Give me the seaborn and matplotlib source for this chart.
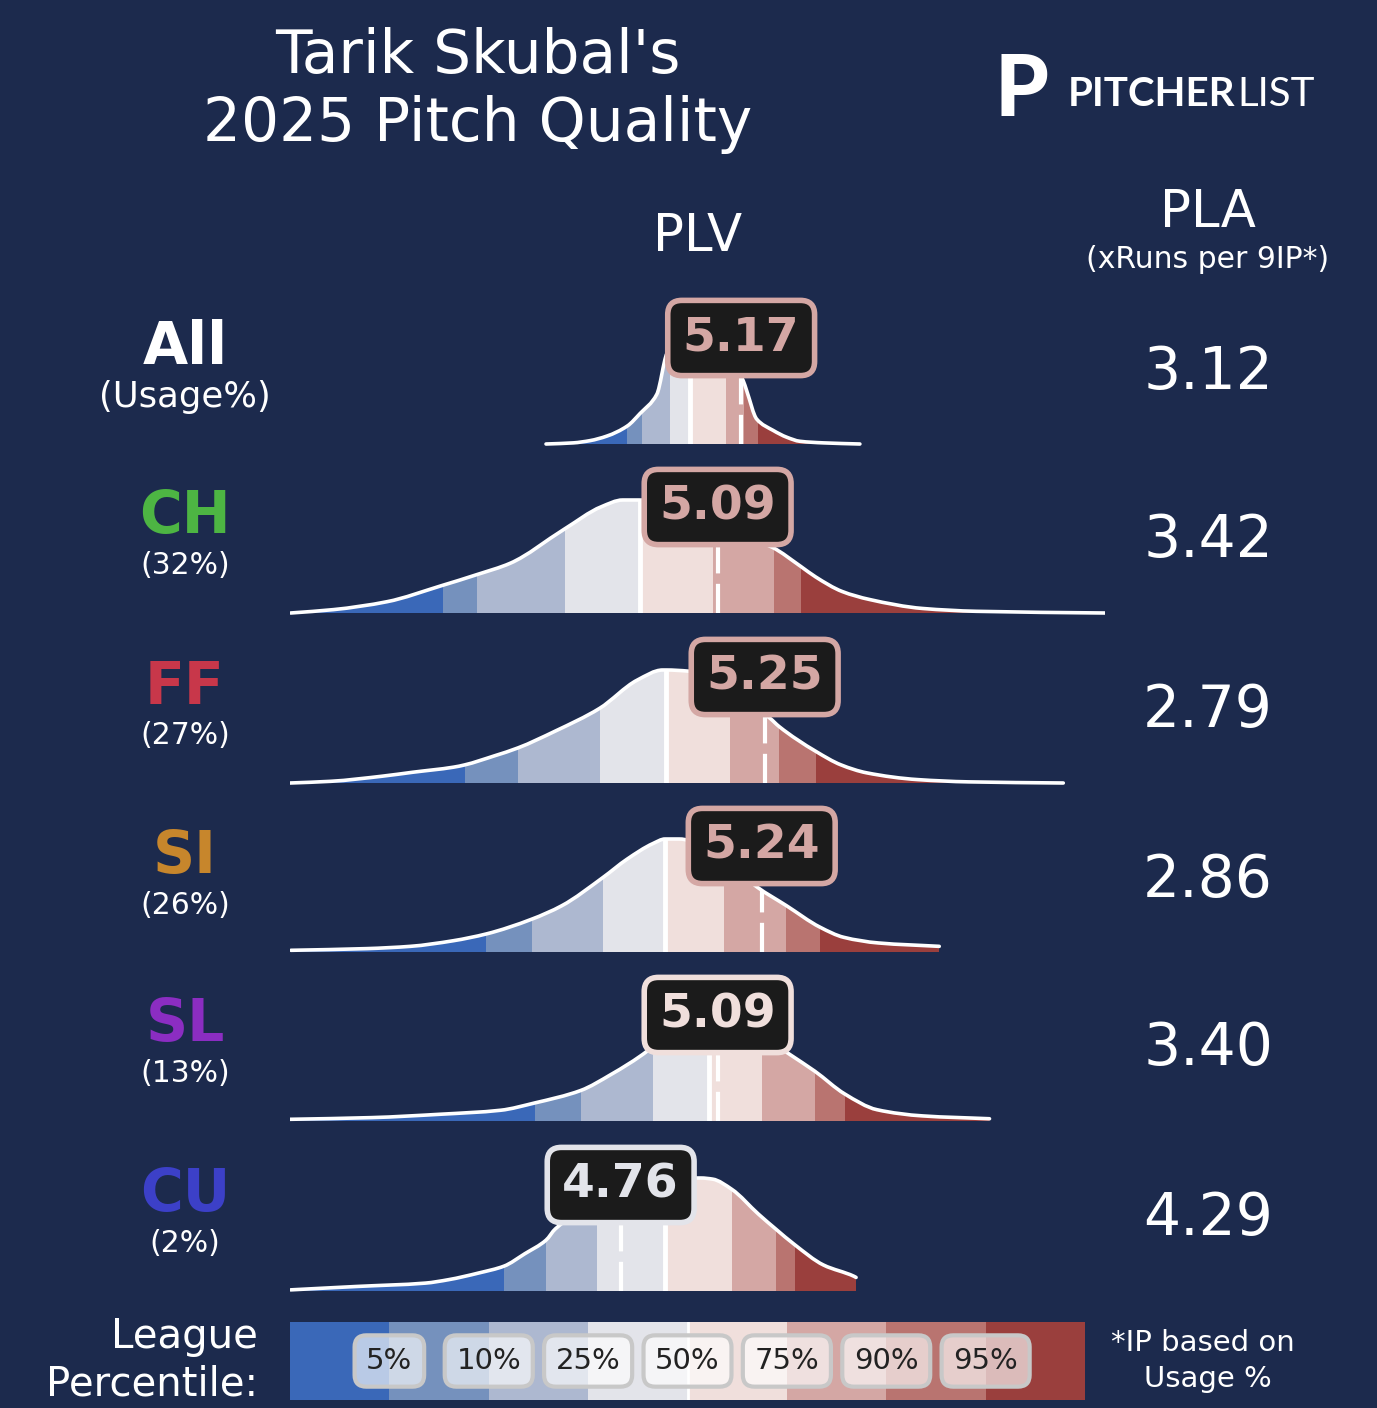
import numpy as np
import pandas as pd
import matplotlib
matplotlib.use("Agg")
import matplotlib.pyplot as plt
from matplotlib.path import Path
from matplotlib.patches import PathPatch
import seaborn as sns

W, H = 1377, 1408
BG = '#1c2a4d'

band_colors = ['#3a68b8', '#7591bd', '#adb8d0', '#e3e4ea',
               '#f0dfdc', '#d4a7a4', '#b97470', '#9a3f3d']
pct_labels = ['5%', '10%', '25%', '50%', '75%', '90%', '95%']

pitches = ['All', 'CH', 'FF', 'SI', 'SL', 'CU']
usage = ['(Usage%)', '(32%)', '(27%)', '(26%)', '(13%)', '(2%)']
pitch_colors = ['#ffffff', '#4db543', '#c8374a', '#c7862c', '#8b2dc2', '#3c40c8']
plv = [5.17, 5.09, 5.25, 5.24, 5.09, 4.76]
pla = [3.12, 3.42, 2.79, 2.86, 3.40, 4.29]

# league PLV percentile cuts: p5, p10, p25, p50, p75, p90, p95
cuts = {
    'All': [4.783, 4.833, 4.928, 4.996, 5.118, 5.180, 5.228],
    'CH': [4.157, 4.272, 4.570, 4.826, 5.073, 5.281, 5.374],
    'FF': [4.229, 4.410, 4.688, 4.915, 5.132, 5.299, 5.424],
    'SI': [4.303, 4.457, 4.700, 4.911, 5.113, 5.324, 5.438],
    'SL': [4.468, 4.624, 4.869, 5.062, 5.241, 5.421, 5.522],
    'CU': [4.363, 4.506, 4.679, 4.910, 5.138, 5.287, 5.352],
}

# league PLV density curves (scaled so the peak is 1)
dens_x = {
    'All': [4.506, 4.599, 4.656, 4.713, 4.783, 4.826, 4.883, 4.917, 4.950, 5.000,
            5.060, 5.120, 5.177, 5.189, 5.223, 5.279, 5.325, 5.370, 5.450, 5.574],
    'CH': [3.637, 3.783, 3.965, 4.148, 4.271, 4.384, 4.567, 4.694, 4.767, 4.822,
           4.968, 5.073, 5.241, 5.277, 5.374, 5.423, 5.514, 5.606, 5.788, 5.970, 6.408],
    'FF': [3.635, 3.774, 3.948, 4.052, 4.191, 4.229, 4.330, 4.410, 4.538, 4.688,
           4.816, 4.903, 4.915, 4.990, 5.132, 5.267, 5.299, 5.424, 5.510, 5.597,
           5.771, 5.944, 6.266],
    'SI': [3.638, 3.896, 4.044, 4.191, 4.303, 4.457, 4.560, 4.700, 4.781, 4.870,
           4.911, 4.959, 5.113, 5.224, 5.324, 5.438, 5.519, 5.637, 5.844],
    'SL': [3.635, 3.913, 4.148, 4.351, 4.468, 4.624, 4.726, 4.851, 4.869, 4.960,
           5.062, 5.160, 5.241, 5.335, 5.421, 5.522, 5.632, 5.788, 6.015],
    'CU': [3.637, 3.861, 4.096, 4.174, 4.278, 4.363, 4.434, 4.506, 4.538, 4.679,
           4.760, 4.910, 4.968, 5.033, 5.073, 5.138, 5.229, 5.287, 5.352, 5.450,
           5.554, 5.561],
}
dens_y = {
    'All': [0.0, 0.01, 0.03, 0.07, 0.16, 0.27, 0.44, 0.80, 0.93, 1.0,
            0.96, 0.80, 0.56, 0.47, 0.22, 0.12, 0.06, 0.024, 0.01, 0.0],
    'CH': [0.0, 0.03, 0.10, 0.24, 0.34, 0.44, 0.74, 0.94, 1.0, 1.0,
           0.93, 0.82, 0.62, 0.58, 0.41, 0.32, 0.19, 0.12, 0.04, 0.015, 0.0],
    'FF': [0.0, 0.015, 0.06, 0.095, 0.14, 0.16, 0.24, 0.31, 0.46, 0.66,
           0.91, 1.0, 1.0, 0.99, 0.80, 0.575, 0.50, 0.28, 0.16, 0.09,
           0.03, 0.01, 0.0],
    'SI': [0.015, 0.03, 0.05, 0.10, 0.16, 0.29, 0.41, 0.66, 0.82, 0.96,
           1.0, 1.0, 0.82, 0.575, 0.41, 0.22, 0.13, 0.08, 0.05],
    'SL': [0.015, 0.03, 0.06, 0.095, 0.16, 0.27, 0.41, 0.62, 0.66, 0.90,
           1.0, 0.92, 0.76, 0.59, 0.44, 0.24, 0.10, 0.045, 0.02],
    'CU': [0.01, 0.04, 0.07, 0.10, 0.16, 0.22, 0.33, 0.45, 0.55, 0.78,
           0.85, 0.97, 1.0, 1.0, 0.99, 0.90, 0.68, 0.55, 0.41, 0.23,
           0.13, 0.12],
}

sns.set_theme(style='dark', rc={'figure.facecolor': BG, 'axes.facecolor': BG})
plt.rcParams['font.family'] = ['DejaVu Sans']

fig = plt.figure(figsize=(W / 100, H / 100), dpi=100)


def fx(px):
    return px / W


def fy(py):
    return 1 - py / H


def smooth_path(x, y, close=False):
    # monotone cubic (Fritsch-Carlson) bezier through the read points
    x = np.asarray(x, float)
    y = np.asarray(y, float)
    h = np.diff(x)
    d = np.diff(y) / h
    m = np.zeros_like(y)
    m[0], m[-1] = d[0], d[-1]
    for i in range(1, len(x) - 1):
        if d[i - 1] * d[i] > 0:
            w1 = 2 * h[i] + h[i - 1]
            w2 = h[i] + 2 * h[i - 1]
            m[i] = (w1 + w2) / (w1 / d[i - 1] + w2 / d[i])
    verts = [(x[0], y[0])]
    codes = [Path.MOVETO]
    for i in range(len(x) - 1):
        verts += [(x[i] + h[i] / 3, y[i] + m[i] * h[i] / 3),
                  (x[i + 1] - h[i] / 3, y[i + 1] - m[i + 1] * h[i] / 3),
                  (x[i + 1], y[i + 1])]
        codes += [Path.CURVE4] * 3
    if close:
        verts += [(x[-1], 0), (x[0], 0), (x[0], y[0])]
        codes += [Path.LINETO, Path.LINETO, Path.CLOSEPOLY]
    return Path(verts, codes)


# title + logo
fig.text(fx(478), fy(57), "Tarik Skubal's", ha='center', va='center', fontsize=43, color='white')
fig.text(fx(478), fy(125), "2025 Pitch Quality", ha='center', va='center', fontsize=43, color='white')
fig.text(fx(1021), fy(92), "P", ha='center', va='center', fontsize=62, color='white',
         family=['Lato', 'DejaVu Sans'], weight='black')
fig.text(fx(1068), fy(106), "PITCHER", ha='left', va='baseline', fontsize=29, color='white',
         family=['Lato', 'DejaVu Sans'], weight='bold')
fig.text(fx(1237), fy(106), "LIST", ha='left', va='baseline', fontsize=29, color='white',
         family=['Lato', 'DejaVu Sans'], weight='normal')

# column headers
fig.text(fx(698), fy(237), "PLV", ha='center', va='center', fontsize=37, color='white')
fig.text(fx(1208), fy(213), "PLA", ha='center', va='center', fontsize=37, color='white')
fig.text(fx(1208), fy(260), "(xRuns per 9IP*)", ha='center', va='center', fontsize=21.5, color='white')

baselines = [444, 613, 783, 952, 1121, 1291]
x_lo, x_hi = (290 + 778.3) / 293.9, (1105 + 778.3) / 293.9
peak_px = 113

for i, p in enumerate(pitches):
    base = baselines[i]
    ax = fig.add_axes([fx(290), fy(base + 5), fx(1105) - fx(290), 160 / H])
    ax.set_facecolor(BG)
    ax.set_xlim(x_lo, x_hi)
    ax.set_ylim(-5 / peak_px, 155 / peak_px)
    ax.axis('off')

    x = dens_x[p]
    y = dens_y[p]
    area = PathPatch(smooth_path(x, y, close=True), fc='none', ec='none',
                     transform=ax.transData)
    ax.add_patch(area)

    edges = [x[0]] + cuts[p] + [x[-1]]
    for k in range(8):
        span = ax.axvspan(edges[k], edges[k + 1], color=band_colors[k], lw=0, zorder=1)
        span.set_clip_path(area)

    med = cuts[p][3]
    ln, = ax.plot([med, med], [0, 2], color='white', lw=3.5, zorder=2, solid_capstyle='butt')
    ln.set_clip_path(area)
    v = plv[i]
    ln, = ax.plot([v, v], [0, 2], color='white', lw=3, zorder=2, linestyle=(0, (7, 2.5)))
    ln.set_clip_path(area)

    ax.add_patch(PathPatch(smooth_path(x, y), fc='none', ec='white', lw=2.6, zorder=3,
                           capstyle='round', transform=ax.transData))

    band = int(np.searchsorted(edges, v)) - 1
    bc = band_colors[band]
    ax.text(v, 106 / peak_px, f'{v:.2f}', ha='center', va='center', fontsize=34,
            weight='bold', color=bc, zorder=10,
            bbox=dict(boxstyle='round,pad=0.32,rounding_size=0.3', fc='#1b1b1b', ec=bc, lw=4))

    # left labels and PLA
    fig.text(fx(185), fy(base - 96), p, ha='center', va='center', fontsize=42,
             weight='bold', color=pitch_colors[i])
    fig.text(fx(185), fy(base - 47), usage[i], ha='center', va='center',
             fontsize=25.5 if i == 0 else 21.5, color='white')
    fig.text(fx(1208), fy(base - 72), f'{pla[i]:.2f}', ha='center', va='center',
             fontsize=42, color='white')

# league percentile legend bar
legend_df = pd.DataFrame({'bin': [str(k) for k in range(8)], 'h': [1] * 8})
lax = fig.add_axes([fx(290), fy(1400), fx(1085) - fx(290), 78 / H])
sns.barplot(data=legend_df, x='bin', y='h', hue='bin', palette=band_colors,
            width=1, legend=False, ax=lax, saturation=1, linewidth=0)
lax.axvline(3.5, color='white', lw=2)
lax.set_xlim(-0.5, 7.5)
lax.set_ylim(0, 1)
lax.axis('off')
for k, lab in enumerate(pct_labels):
    lax.text(k + 0.5, 0.5, lab, ha='center', va='center', fontsize=21, color='#222222',
             bbox=dict(boxstyle='round,pad=0.4,rounding_size=0.4', fc=(1, 1, 1, 0.65),
                       ec='#c8c8c8', lw=3))

fig.text(fx(258), fy(1337), "League", ha='right', va='center', fontsize=29, color='white')
fig.text(fx(258), fy(1384), "Percentile:", ha='right', va='center', fontsize=29, color='white')
fig.text(fx(1203), fy(1343), "*IP based on", ha='center', va='center', fontsize=21, color='white')
fig.text(fx(1208), fy(1379), "Usage %", ha='center', va='center', fontsize=21, color='white')

fig.savefig('out.png', dpi=100, facecolor=BG)
